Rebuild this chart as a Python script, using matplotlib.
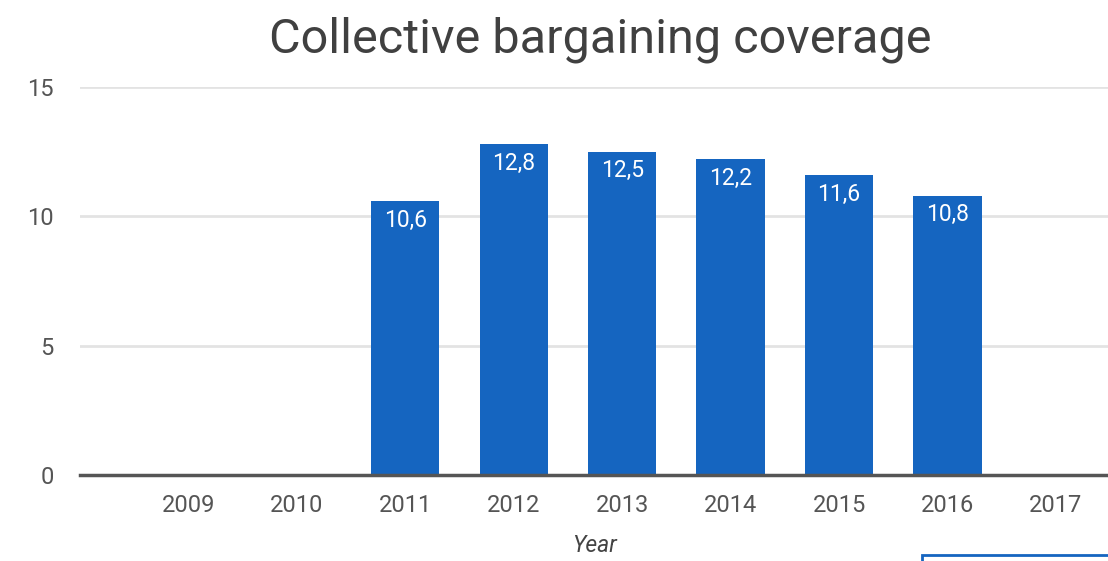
import matplotlib.pyplot as plt
from matplotlib.patches import Rectangle

# data
years = ['2009', '2010', '2011', '2012', '2013', '2014', '2015', '2016', '2017']
coverage = [None, None, 10.6, 12.8, 12.5, 12.2, 11.6, 10.8, None]
y_ticks = [0, 5, 10, 15]

plt.rcParams['font.family'] = ['Roboto', 'DejaVu Sans']

fig = plt.figure(figsize=(11.08, 5.61), dpi=100)
ax = fig.add_axes([80 / 1108, 1 - 475 / 561, 1 - 80 / 1108, (475 - 87) / 561])

bar_color = '#1565c0'
x = list(range(len(years)))
for i, v in enumerate(coverage):
    if v is None:
        continue
    ax.bar(i, v, width=0.63, color=bar_color, zorder=3)
    ax.text(i, v - 0.3, f'{v:.1f}'.replace('.', ','), ha='center', va='top',
            color='white', fontsize=16.5, zorder=4)

ax.set_xlim(-1.0, 8.48)
ax.set_ylim(0, 15)
ax.set_yticks(y_ticks)
ax.set_xticks(x)
ax.set_xticklabels(years)
ax.grid(axis='y', color='#e3e3e3', linewidth=2, zorder=0)
ax.tick_params(axis='both', length=0, labelsize=17, colors='#555555')
ax.tick_params(axis='y', pad=19)
ax.tick_params(axis='x', pad=14)
for s in ['top', 'right', 'left']:
    ax.spines[s].set_visible(False)
ax.spines['bottom'].set_color('#555555')
ax.spines['bottom'].set_linewidth(2.5)
ax.spines['bottom'].set_zorder(5)

ax.set_xlabel('Year', fontsize=16.5, style='italic', color='#444444', labelpad=12)
fig.text(600 / 1108, 1 - 40 / 561, 'Collective bargaining coverage', ha='center',
         va='center', fontsize=35, color='#404040')

# partially visible box at bottom right
fig.patches.append(Rectangle((922 / 1108, -0.05), 0.2, 0.05 + 6 / 561,
                             transform=fig.transFigure, fill=False,
                             edgecolor='#1565c0', linewidth=2))

fig.savefig('out.png', dpi=100)
